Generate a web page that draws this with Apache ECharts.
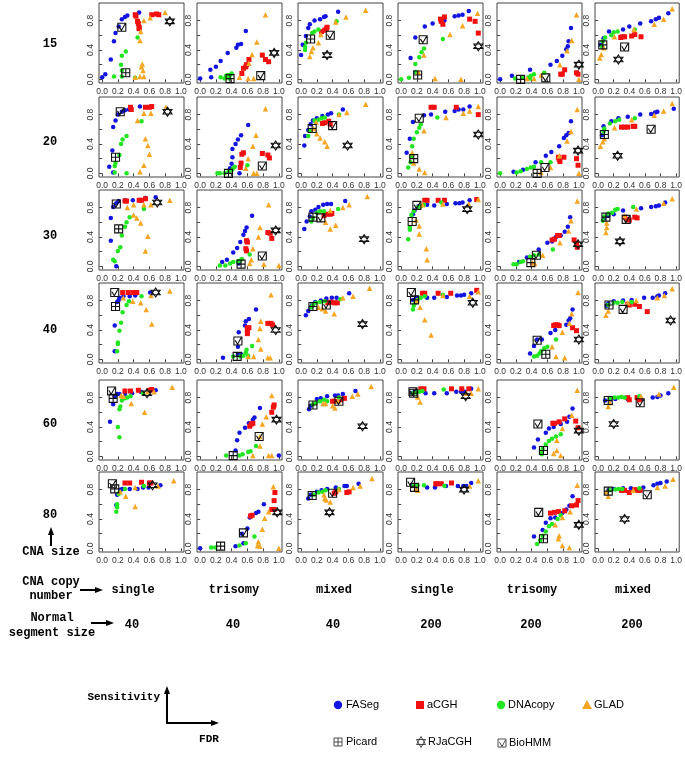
<!DOCTYPE html>
<html><head><meta charset="utf-8">
<script src="https://cdn.jsdelivr.net/npm/echarts@6/dist/echarts.min.js"></script>
<style>html,body{margin:0;padding:0;background:#fff}#c{width:685px;height:776px}</style>
</head><body><div id="c"></div>
<script>
// ---- labels ----
const CNA_SIZE = ['15','20','30','40','60','80'];
const COPY_NUMBER = ['single','trisomy','mixed','single','trisomy','mixed'];
const NORMAL_SIZE = ['40','40','40','200','200','200'];
const X_TICKS = [0,0.2,0.4,0.6,0.8,1.0];
const Y_TICKS = [0,0.2,0.4,0.6,0.8];
const Y_LABELS = [0,0.4,0.8];

// ---- data: panels in row order (CNA size 15..80), columns left to right; each point [FDR, Sensitivity] ----
const FASeg = [
 [[0,0.03],[0.04,0.07],[0.11,0.27],[0.15,0.52],[0.17,0.63],[0.21,0.72],[0.25,0.82],[0.29,0.85],[0.32,0.87],[0.47,0.91]],
 [[0,0.01],[0.14,0.03],[0.13,0.13],[0.2,0.17],[0.26,0.25],[0.35,0.36],[0.46,0.43],[0.48,0.47],[0.52,0.48],[0.58,0.66]],
 [[0,0.33],[0.02,0.47],[0.06,0.59],[0.09,0.7],[0.11,0.75],[0.17,0.8],[0.24,0.82],[0.29,0.85],[0.31,0.86],[0.47,0.92]],
 [[0.18,0.1],[0.12,0.29],[0.18,0.57],[0.3,0.72],[0.4,0.76],[0.55,0.8],[0.68,0.86],[0.73,0.87],[0.78,0.88],[0.86,0.93]],
 [[0,0],[0.15,0.05],[0.38,0.13],[0.64,0.2],[0.72,0.25],[0.79,0.32],[0.84,0.41],[0.86,0.45],[0.87,0.52],[0.9,0.7]],
 [[0.03,0.47],[0.07,0.56],[0.14,0.65],[0.32,0.68],[0.4,0.72],[0.54,0.76],[0.68,0.79],[0.74,0.82],[0.78,0.84],[0.9,0.9]],
 [[0.14,0.01],[0.09,0.09],[0.13,0.31],[0.14,0.63],[0.17,0.72],[0.2,0.8],[0.25,0.84],[0.29,0.86],[0.34,0.87],[0.48,0.91]],
 [[0.5,0],[0.38,0.07],[0.4,0.13],[0.41,0.22],[0.41,0.33],[0.45,0.4],[0.48,0.46],[0.52,0.52],[0.61,0.66]],
 [[0.04,0.38],[0.05,0.51],[0.09,0.59],[0.12,0.67],[0.15,0.72],[0.2,0.75],[0.27,0.78],[0.34,0.8],[0.38,0.82],[0.53,0.87]],
 [[0.07,0.28],[0.11,0.47],[0.15,0.7],[0.29,0.79],[0.38,0.8],[0.56,0.84],[0.68,0.85],[0.73,0.87],[0.79,0.87],[0.87,0.91]],
 [[0.17,0.02],[0.29,0.05],[0.45,0.15],[0.58,0.24],[0.65,0.29],[0.75,0.37],[0.81,0.48],[0.84,0.52],[0.87,0.55],[0.9,0.71]],
 [[0.05,0.52],[0.07,0.64],[0.17,0.71],[0.26,0.75],[0.38,0.77],[0.54,0.8],[0.68,0.81],[0.73,0.83],[0.76,0.84],[0.97,0.88]],
 [[0.18,0],[0.11,0.35],[0.11,0.66],[0.14,0.81],[0.18,0.86],[0.21,0.89],[0.29,0.9],[0.39,0.9],[0.55,0.93],[0.68,0.94]],
 [[0.28,0.06],[0.34,0.09],[0.42,0.19],[0.47,0.25],[0.51,0.33],[0.55,0.43],[0.57,0.48],[0.59,0.53],[0.66,0.69],[0.49,0.04]],
 [[0.04,0.51],[0.07,0.61],[0.11,0.68],[0.13,0.75],[0.18,0.77],[0.22,0.81],[0.28,0.84],[0.33,0.85],[0.38,0.85],[0.56,0.89]],
 [[0.15,0.71],[0.17,0.76],[0.22,0.82],[0.33,0.84],[0.42,0.83],[0.58,0.85],[0.69,0.86],[0.74,0.86],[0.78,0.87],[0.87,0.9]],
 [[0.24,0.06],[0.34,0.12],[0.49,0.23],[0.6,0.32],[0.66,0.34],[0.71,0.4],[0.77,0.42],[0.82,0.47],[0.86,0.54],[0.89,0.67]],
 [[0.08,0.66],[0.13,0.69],[0.2,0.71],[0.32,0.76],[0.55,0.79],[0.68,0.81],[0.74,0.82],[0.78,0.83],[0.86,0.87]],
 [[0.16,0.11],[0.16,0.46],[0.19,0.78],[0.21,0.81],[0.22,0.84],[0.27,0.86],[0.35,0.86],[0.42,0.87],[0.61,0.91]],
 [[0.29,0.02],[0.48,0.07],[0.52,0.07],[0.48,0.17],[0.49,0.37],[0.57,0.46],[0.58,0.52],[0.62,0.55],[0.71,0.68]],
 [[0.06,0.6],[0.09,0.66],[0.12,0.71],[0.14,0.74],[0.18,0.78],[0.25,0.8],[0.32,0.83],[0.39,0.84],[0.45,0.84],[0.61,0.9]],
 [[0.15,0.81],[0.19,0.84],[0.33,0.84],[0.42,0.84],[0.58,0.85],[0.71,0.87],[0.76,0.87],[0.8,0.88],[0.89,0.9]],
 [[0.38,0.08],[0.43,0.18],[0.47,0.27],[0.53,0.27],[0.64,0.36],[0.7,0.4],[0.84,0.47],[0.87,0.53],[0.89,0.56],[0.92,0.68]],
 [[0.11,0.73],[0.13,0.76],[0.2,0.79],[0.32,0.8],[0.43,0.81],[0.59,0.84],[0.7,0.84],[0.76,0.86],[0.78,0.87],[0.86,0.9]],
 [[0.1,0.47],[0.14,0.71],[0.16,0.82],[0.19,0.85],[0.22,0.85],[0.29,0.85],[0.38,0.86],[0.49,0.88],[0.6,0.88],[0.68,0.9]],
 [[1.0,0.01],[0.45,0.08],[0.47,0.22],[0.5,0.32],[0.57,0.39],[0.62,0.45],[0.67,0.5],[0.69,0.53],[0.76,0.66]],
 [[0.1,0.64],[0.12,0.69],[0.2,0.78],[0.25,0.79],[0.33,0.82],[0.43,0.83],[0.47,0.83],[0.53,0.85],[0.69,0.89]],
 [[0.14,0.86],[0.17,0.88],[0.31,0.86],[0.42,0.86],[0.58,0.86],[0.7,0.88],[0.76,0.88],[0.81,0.88],[0.89,0.92]],
 [[0.43,0.12],[0.48,0.23],[0.58,0.32],[0.62,0.38],[0.68,0.4],[0.77,0.44],[0.85,0.47],[0.88,0.54],[0.92,0.65]],
 [[0.09,0.76],[0.15,0.77],[0.22,0.78],[0.38,0.78],[0.55,0.78],[0.7,0.8],[0.76,0.81],[0.8,0.83],[0.9,0.86]],
 [[0.18,0.59],[0.19,0.73],[0.24,0.8],[0.26,0.81],[0.35,0.81],[0.45,0.81],[0.52,0.83],[0.59,0.83],[0.74,0.86]],
 [[0,0],[0.45,0.03],[0.55,0.07],[0.53,0.2],[0.6,0.27],[0.63,0.42],[0.66,0.45],[0.71,0.48],[0.74,0.5],[0.81,0.6]],
 [[0.09,0.68],[0.12,0.73],[0.2,0.77],[0.26,0.79],[0.33,0.81],[0.44,0.83],[0.55,0.85],[0.58,0.85],[0.73,0.88]],
 [[0.15,0.85],[0.19,0.83],[0.33,0.83],[0.43,0.83],[0.57,0.85],[0.72,0.85],[0.79,0.85],[0.83,0.85],[0.89,0.89]],
 [[0.43,0.16],[0.54,0.25],[0.58,0.35],[0.64,0.41],[0.7,0.42],[0.79,0.48],[0.84,0.53],[0.88,0.58],[0.92,0.71]],
 [[0.13,0.79],[0.2,0.81],[0.32,0.82],[0.42,0.82],[0.58,0.83],[0.71,0.86],[0.76,0.88],[0.8,0.89],[0.88,0.91]]
];
const aCGH = [
 [[0.42,0.88],[0.43,0.86],[0.45,0.79],[0.46,0.76],[0.47,0.71],[0.47,0.69],[0.63,0.88],[0.69,0.89],[0.72,0.88]],
 [[0.53,0.08],[0.55,0.15],[0.58,0.17],[0.59,0.2],[0.62,0.27],[0.79,0.33],[0.83,0.27],[0.87,0.24]],
 [[0.26,0.65],[0.3,0.67],[0.32,0.69],[0.33,0.71]],
 [[0.5,0.82],[0.51,0.79],[0.53,0.75],[0.55,0.85],[0.87,0.82],[0.94,0.79],[0.98,0.63]],
 [[0.77,0.07],[0.79,0.07],[0.82,0.13],[0.97,0.09],[0.99,0.07]],
 [[0.29,0.57],[0.31,0.58],[0.34,0.58],[0.43,0.59],[0.47,0.61],[0.55,0.58]],
 [[0.36,0.9],[0.37,0.87],[0.55,0.9],[0.6,0.9],[0.63,0.91]],
 [[0.51,0.08],[0.52,0.14],[0.53,0.26],[0.55,0.28],[0.79,0.27],[0.86,0.25],[0.88,0.21]],
 [[0.27,0.68],[0.3,0.69],[0.35,0.71],[0.37,0.67]],
 [[0.38,0.9],[0.42,0.9],[0.7,0.9],[0.98,0.8]],
 [[0.74,0.22],[0.75,0.19],[0.76,0.16],[0.81,0.22],[0.97,0.2],[0.99,0.11]],
 [[0.3,0.63],[0.34,0.63],[0.38,0.63],[0.45,0.64],[0.47,0.64]],
 [[0.29,0.89],[0.31,0.89],[0.47,0.9],[0.5,0.9],[0.55,0.92]],
 [[0.58,0.24],[0.59,0.21],[0.59,0.35],[0.6,0.33],[0.86,0.46],[0.89,0.45],[0.91,0.38]],
 [[0.29,0.69],[0.33,0.71],[0.37,0.71],[0.39,0.72]],
 [[0.3,0.9],[0.33,0.9],[0.47,0.9],[0.55,0.9],[0.96,0.91]],
 [[0.66,0.36],[0.69,0.37],[0.73,0.42],[0.75,0.42],[0.94,0.36],[0.97,0.31],[0.98,0.26]],
 [[0.34,0.67],[0.38,0.64],[0.4,0.63],[0.47,0.67],[0.5,0.66]],
 [[0.26,0.91],[0.33,0.91],[0.39,0.91],[0.44,0.91]],
 [[0.6,0.35],[0.6,0.39],[0.6,0.43],[0.62,0.43],[0.86,0.49],[0.9,0.49],[0.92,0.47]],
 [[0.34,0.77],[0.38,0.78],[0.42,0.77],[0.46,0.77]],
 [[0.27,0.9],[0.3,0.9],[0.47,0.9],[0.63,0.9],[0.96,0.94]],
 [[0.68,0.46],[0.7,0.47],[0.73,0.47],[0.75,0.46],[0.92,0.43],[0.97,0.39]],
 [[0.38,0.75],[0.4,0.74],[0.47,0.75],[0.53,0.72],[0.63,0.65]],
 [[0.29,0.89],[0.36,0.89],[0.46,0.9],[0.6,0.9],[0.63,0.91]],
 [[0.63,0.41],[0.65,0.44],[0.67,0.45],[0.91,0.6],[0.93,0.67],[0.94,0.7]],
 [[0.4,0.75],[0.43,0.75],[0.5,0.77],[0.55,0.79]],
 [[0.25,0.92],[0.29,0.92],[0.64,0.92],[0.77,0.92],[0.86,0.92]],
 [[0.67,0.45],[0.69,0.45],[0.75,0.47],[0.82,0.51],[0.96,0.48],[0.99,0.39]],
 [[0.38,0.8],[0.4,0.77],[0.5,0.8],[0.53,0.77]],
 [[0.29,0.89],[0.35,0.89],[0.5,0.9],[0.6,0.89],[0.62,0.89]],
 [[0.64,0.44],[0.66,0.45],[0.91,0.53],[0.94,0.53],[0.94,0.65],[0.95,0.76]],
 [[0.42,0.75],[0.44,0.77],[0.58,0.76],[0.61,0.77]],
 [[0.44,0.88],[0.46,0.88],[0.51,0.88],[0.64,0.89]],
 [[0.64,0.48],[0.69,0.49],[0.74,0.5],[0.82,0.51],[0.91,0.58],[0.97,0.59],[0.99,0.65]],
 [[0.3,0.79],[0.34,0.79],[0.4,0.76],[0.47,0.8],[0.51,0.79],[0.54,0.79]]
];
const DNAcopy = [
 [[0.45,0.57],[0.3,0.38],[0.25,0.32],[0.24,0.2],[0.25,0.12],[0.15,0.04],[0.25,0.04],[0.42,0.02]],
 [[0.26,0.03],[0.33,0.05],[0.35,0.06],[0.38,0.06],[0.4,0.08],[0.31,0.01],[0.37,0.01]],
 [[0.05,0.4],[0.05,0.44],[0.06,0.5],[0.14,0.63],[0.17,0.65],[0.22,0.68],[0.45,0.79]],
 [[0,0],[0.1,0.02],[0.19,0.1],[0.18,0.21],[0.23,0.3],[0.26,0.37],[0.29,0.42],[0.53,0.55]],
 [[0.19,0.01],[0.28,0.02],[0.36,0.03],[0.38,0.01],[0.39,0.05],[0.43,0.07],[0.56,0.09]],
 [[0.05,0.45],[0.06,0.52],[0.09,0.57],[0.17,0.6],[0.2,0.64],[0.25,0.65],[0.47,0.68]],
 [[0.31,0],[0.16,0.01],[0.16,0.1],[0.17,0.14],[0.22,0.25],[0.24,0.4],[0.26,0.46],[0.31,0.51],[0.5,0.71]],
 [[0.22,0],[0.25,0],[0.31,0],[0.36,0.02],[0.4,0.04],[0.42,0.07],[0.44,0.09],[0.6,0.11]],
 [[0.09,0.51],[0.11,0.58],[0.17,0.72],[0.22,0.73],[0.26,0.75],[0.3,0.76],[0.48,0.8]],
 [[0.09,0.08],[0.12,0.15],[0.13,0.23],[0.14,0.37],[0.16,0.47],[0.2,0.56],[0.23,0.62],[0.25,0.67],[0.46,0.76]],
 [[0,0],[0.21,0.01],[0.26,0.03],[0.34,0.06],[0.39,0.08],[0.43,0.09],[0.52,0.15],[0.64,0.15]],
 [[0.07,0.57],[0.08,0.61],[0.15,0.68],[0.22,0.71],[0.27,0.73],[0.47,0.75]],
 [[0.14,0.09],[0.16,0.07],[0.2,0.21],[0.23,0.26],[0.25,0.42],[0.29,0.54],[0.31,0.6],[0.35,0.67],[0.53,0.78]],
 [[0.25,0.01],[0.32,0.01],[0.38,0.04],[0.42,0.06],[0.48,0.07],[0.51,0.08],[0.53,0.1],[0.63,0.16]],
 [[0.13,0.61],[0.15,0.66],[0.2,0.73],[0.24,0.75],[0.29,0.75],[0.47,0.78]],
 [[0.09,0.37],[0.11,0.5],[0.11,0.53],[0.13,0.7],[0.16,0.75],[0.21,0.8],[0.25,0.82],[0.29,0.84],[0.51,0.87]],
 [[0.17,0.03],[0.21,0.03],[0.26,0.06],[0.29,0.07],[0.38,0.13],[0.43,0.15],[0.49,0.16],[0.67,0.23]],
 [[0.06,0.62],[0.08,0.68],[0.13,0.72],[0.18,0.73],[0.22,0.77],[0.25,0.78],[0.45,0.81]],
 [[0.19,0.11],[0.2,0.21],[0.2,0.23],[0.22,0.39],[0.24,0.5],[0.26,0.64],[0.31,0.74],[0.34,0.79],[0.5,0.86]],
 [[0.42,0.04],[0.51,0.04],[0.55,0.05],[0.61,0.05],[0.58,0.09],[0.59,0.13],[0.66,0.18]],
 [[0.13,0.71],[0.15,0.74],[0.19,0.77],[0.24,0.78],[0.3,0.79],[0.5,0.82]],
 [[0.15,0.68],[0.16,0.73],[0.18,0.77],[0.21,0.81],[0.25,0.84],[0.3,0.86],[0.53,0.88]],
 [[0.43,0.04],[0.47,0.05],[0.5,0.08],[0.52,0.11],[0.56,0.15],[0.6,0.17],[0.71,0.27]],
 [[0.13,0.74],[0.2,0.77],[0.25,0.77],[0.31,0.78],[0.43,0.78]],
 [[0.22,0.26],[0.2,0.4],[0.22,0.64],[0.23,0.68],[0.25,0.76],[0.29,0.79],[0.32,0.8],[0.36,0.82],[0.52,0.86]],
 [[0.33,0.01],[0.5,0.01],[0.54,0.03],[0.61,0.06],[0.64,0.07],[0.71,0.14]],
 [[0.15,0.71],[0.19,0.73],[0.24,0.75],[0.29,0.77],[0.33,0.75],[0.48,0.8]],
 [[0.15,0.86],[0.19,0.87],[0.23,0.88],[0.27,0.89],[0.54,0.91]],
 [[0.53,0.03],[0.52,0.06],[0.54,0.1],[0.58,0.16],[0.62,0.21],[0.66,0.24],[0.71,0.27],[0.77,0.3]],
 [[0.15,0.78],[0.21,0.8],[0.26,0.8],[0.3,0.81],[0.34,0.8],[0.53,0.82]],
 [[0.18,0.5],[0.19,0.56],[0.19,0.6],[0.21,0.74],[0.22,0.76],[0.29,0.81],[0.53,0.85]],
 [[0.14,0.01],[0.19,0.01],[0.5,0.04],[0.58,0.07],[0.69,0.16]],
 [[0.16,0.73],[0.22,0.76],[0.27,0.77],[0.31,0.79],[0.48,0.81]],
 [[0.16,0.86],[0.21,0.86],[0.29,0.86],[0.55,0.85]],
 [[0.47,0.06],[0.51,0.11],[0.54,0.17],[0.58,0.23],[0.62,0.3],[0.66,0.33],[0.73,0.4],[0.77,0.45]],
 [[0.15,0.79],[0.22,0.8],[0.26,0.81],[0.31,0.81],[0.53,0.82]]
];
const GLAD = [
 [[0.53,0.8],[0.61,0.84],[0.8,0.91],[0.49,0.65],[0.48,0.53],[0.51,0.21],[0.5,0.17],[0.52,0.12],[0.48,0.04],[0.53,0.04],[0.42,0.03]],
 [[0.83,0.88],[0.72,0.51],[0.66,0.34],[0.62,0.22],[0.5,0.03],[0.61,0.01],[0.68,0.01]],
 [[0.11,0.31],[0.13,0.38],[0.15,0.43],[0.22,0.5],[0.25,0.61],[0.44,0.78],[0.57,0.85],[0.82,0.94]],
 [[0.97,0.9],[0.78,0.73],[0.62,0.61],[0.29,0.33],[0.22,0.1],[0.43,0.01],[0.76,0]],
 [[0.97,0.88],[0.91,0.53],[0.85,0.39],[0.76,0.2],[0.52,0.06],[0.34,0.01],[0.43,0.01],[1.0,0]],
 [[0.02,0.29],[0.04,0.34],[0.07,0.43],[0.21,0.58],[0.46,0.68],[0.72,0.75],[0.84,0.82],[0.95,0.96]],
 [[0.53,0.82],[0.62,0.82],[0.81,0.9],[0.45,0.72],[0.55,0.47],[0.58,0.38],[0.6,0.26],[0.53,0.11],[0.48,0.02]],
 [[0.83,0.88],[0.71,0.52],[0.67,0.37],[0.61,0.2],[0.58,0.07],[0.68,0],[0.72,0]],
 [[0.19,0.7],[0.16,0.61],[0.2,0.54],[0.24,0.48],[0.3,0.43],[0.33,0.37],[0.48,0.8],[0.58,0.83],[0.82,0.94]],
 [[0.14,0.28],[0.16,0.14],[0.29,0.58],[0.23,0.06],[0.3,0.01],[0.57,0.76],[0.79,0.82],[0.87,0.85],[0.98,0.91]],
 [[0.98,0.87],[0.9,0.57],[0.85,0.44],[0.75,0.24],[0.64,0.08],[0.52,0.01],[1.0,0]],
 [[0.03,0.37],[0.06,0.43],[0.08,0.47],[0.21,0.62],[0.43,0.73],[0.72,0.79],[0.84,0.85],[0.95,0.95]],
 [[0.4,0.7],[0.44,0.66],[0.49,0.59],[0.58,0.41],[0.55,0.21],[0.32,0.8],[0.4,0.84],[0.53,0.84],[0.62,0.84],[0.86,0.9]],
 [[0.87,0.84],[0.76,0.53],[0.74,0.4],[0.67,0.24],[0.65,0.09],[0.63,0.04],[0.81,0.03],[1.0,0.01]],
 [[0.31,0.6],[0.37,0.51],[0.44,0.56],[0.37,0.76],[0.53,0.8],[0.61,0.84],[0.84,0.95]],
 [[0.19,0.63],[0.23,0.55],[0.23,0.44],[0.32,0.24],[0.33,0.09],[0.27,0.84],[0.53,0.85],[0.86,0.85],[0.98,0.91]],
 [[0.98,0.89],[0.9,0.62],[0.87,0.48],[0.76,0.32],[0.54,0.15],[0.41,0.05],[0.44,0.04]],
 [[0.1,0.46],[0.11,0.53],[0.11,0.59],[0.34,0.69],[0.49,0.78],[0.84,0.86],[0.95,0.92]],
 [[0.27,0.84],[0.39,0.79],[0.49,0.77],[0.56,0.68],[0.63,0.48],[0.62,0.87],[0.86,0.93]],
 [[0.9,0.88],[0.77,0.52],[0.76,0.42],[0.74,0.27],[0.77,0.14],[0.68,0.04],[0.61,0.04],[0.86,0.02],[0.89,0.02]],
 [[0.22,0.71],[0.27,0.69],[0.31,0.66],[0.42,0.62],[0.53,0.84],[0.66,0.86],[0.87,0.97]],
 [[0.2,0.8],[0.24,0.71],[0.3,0.54],[0.38,0.33],[0.53,0.87],[0.87,0.86],[0.98,0.92]],
 [[0.99,0.91],[0.91,0.62],[0.88,0.49],[0.79,0.37],[0.66,0.17],[0.71,0.04],[0.82,0.02]],
 [[0.1,0.6],[0.13,0.66],[0.38,0.77],[0.49,0.8],[0.76,0.84],[0.85,0.87],[0.95,0.96]],
 [[0.24,0.83],[0.27,0.82],[0.37,0.72],[0.54,0.6],[0.58,0.88],[0.66,0.88],[0.89,0.94]],
 [[0.91,0.83],[0.84,0.54],[0.79,0.44],[0.76,0.27],[0.76,0.14],[0.67,0.01],[0.87,0.01],[0.91,0.01]],
 [[0.28,0.72],[0.31,0.72],[0.4,0.69],[0.43,0.66],[0.47,0.75],[0.65,0.82],[0.72,0.85],[0.89,0.95]],
 [[0.21,0.81],[0.24,0.74],[0.83,0.86],[0.89,0.86],[0.98,0.92]],
 [[0.98,0.9],[0.91,0.56],[0.79,0.38],[0.72,0.22],[0.72,0.08],[0.68,0.04],[0.77,0.01]],
 [[0.13,0.68],[0.15,0.73],[0.55,0.82],[0.78,0.85],[0.97,0.94]],
 [[0.23,0.77],[0.3,0.71],[0.42,0.57],[0.42,0.83],[0.71,0.85],[0.91,0.92]],
 [[0.93,0.84],[0.87,0.5],[0.82,0.41],[0.79,0.26],[0.74,0.09],[0.73,0.04],[0.76,0.03],[1.0,0]],
 [[0.29,0.73],[0.3,0.68],[0.32,0.66],[0.37,0.63],[0.48,0.8],[0.66,0.83],[0.75,0.85],[0.9,0.95]],
 [[0.18,0.81],[0.21,0.79],[0.87,0.85],[0.98,0.92]],
 [[0.98,0.86],[0.89,0.5],[0.79,0.42],[0.7,0.32],[0.75,0.17],[0.74,0.13],[0.79,0.04],[0.88,0.01]],
 [[0.11,0.77],[0.13,0.71],[0.45,0.79],[0.76,0.83],[0.86,0.85],[0.96,0.94]]
];
const Picard = [
 [0.30,0.09],[0.38,0.01],[0.12,0.55],[0.21,0.06],[0.26,0],[0.06,0.47],
 [0.17,0.22],[0.36,0.0],[0.14,0.61],[0.16,0.2],[0.47,0],[0.08,0.53],
 [0.21,0.51],[0.52,0.03],[0.15,0.67],[0.14,0.61],[0.39,0.05],[0.1,0.67],
 [0.17,0.72],[0.47,0.04],[0.15,0.72],[0.17,0.81],[0.58,0.07],[0.14,0.74],
 [0.14,0.79],[0.42,0.01],[0.15,0.7],[0.16,0.86],[0.55,0.08],[0.13,0.76],
 [0.16,0.81],[0.26,0.03],[0.14,0.72],[0.17,0.83],[0.55,0.13],[0.13,0.78]
];
const RJaCGH = [
 [0.86,0.79],[0.94,0.36],[0.33,0.33],[0.98,0.45],[1.0,0.2],[0.26,0.27],
 [0.83,0.84],[0.96,0.38],[0.59,0.38],[0.98,0.53],[0.99,0.31],[0.25,0.24],
 [0.7,0.87],[0.96,0.49],[0.8,0.37],[0.84,0.78],[0.99,0.3],[0.28,0.34],
 [0.68,0.91],[0.96,0.4],[0.78,0.48],[0.91,0.77],[1.0,0.27],[0.93,0.53],
 [0.57,0.86],[0.97,0.5],[0.78,0.41],[0.82,0.82],[1.0,0.35],[0.2,0.44],
 [0.64,0.86],[0.98,0.49],[0.36,0.49],[0.8,0.8],[1.0,0.32],[0.34,0.4]
];
const BioHMM = [
 [0.25,0.71],[0.77,0.05],[0.37,0.6],[0.28,0.54],[0.58,0.02],[0.34,0.44],
 [0.23,0.84],[0.79,0.1],[0.4,0.65],[0.23,0.75],[0.57,0.08],[0.68,0.6],
 [0.18,0.85],[0.79,0.14],[0.25,0.66],[0.2,0.83],[0.46,0.15],[0.36,0.64],
 [0.16,0.91],[0.48,0.25],[0.32,0.74],[0.13,0.91],[0.47,0.26],[0.32,0.68],
 [0.12,0.89],[0.75,0.27],[0.48,0.75],[0.15,0.88],[0.48,0.44],[0.54,0.73],
 [0.13,0.88],[0.55,0.21],[0.4,0.75],[0.12,0.9],[0.49,0.49],[0.63,0.73]
];

// ---- layout & style ----
const COL_LEFT = [99,197,298,398,497,595];
const ROW_TOP = [3,97,190,283,380,472];
const PW = 85, PH = 80;
const C_BLUE = '#1414e0', C_RED = '#f01010', C_GREEN = '#22e622', C_ORANGE = '#f5a623';
const MONO = 'Liberation Mono', SANS = 'Liberation Sans';
const P_PICARD = 'path://M0,0H10V10H0Z M5,0V10 M0,5H10';
const P_STAR = 'path://M5,0L9.33,7.5H0.67Z M5,10L0.67,2.5H9.33Z';
const P_BIO = 'path://M0,0H10V10H0Z M1.5,4L4.5,9L9,1';

const grids = [], xAxes = [], yAxes = [], series = [];
for (let r = 0; r < 6; r++) {
  for (let c = 0; c < 6; c++) {
    const i = r * 6 + c;
    grids.push({left: COL_LEFT[c], top: ROW_TOP[r], width: PW, height: PH, show: true,
      borderColor: '#444', borderWidth: 1, backgroundColor: '#fff', containLabel: false});
    xAxes.push({type: 'value', gridIndex: i, min: -0.04, max: 1.04,
      axisLine: {show: false}, splitLine: {show: false},
      axisTick: {show: true, customValues: X_TICKS, length: 3, lineStyle: {color: '#444'}},
      axisLabel: {customValues: X_TICKS, formatter: v => v.toFixed(1), fontSize: 8.5, color: '#333',
        fontFamily: SANS, margin: 4}});
    yAxes.push({type: 'value', gridIndex: i, min: -0.05, max: 1.04,
      axisLine: {show: false}, splitLine: {show: false},
      axisTick: {show: true, customValues: Y_TICKS, length: 3, lineStyle: {color: '#444'}},
      axisLabel: {customValues: Y_LABELS, formatter: v => v.toFixed(1), fontSize: 8.5, color: '#333',
        fontFamily: SANS, rotate: 90, margin: 4}});
    const base = {type: 'scatter', xAxisIndex: i, yAxisIndex: i, silent: true};
    series.push(Object.assign({}, base, {name: 'FASeg', data: FASeg[i], symbol: 'circle', symbolSize: 4.5, itemStyle: {color: C_BLUE, opacity: 1}}));
    series.push(Object.assign({}, base, {name: 'aCGH', data: aCGH[i], symbol: 'rect', symbolSize: 5, itemStyle: {color: C_RED, opacity: 1}}));
    series.push(Object.assign({}, base, {name: 'DNAcopy', data: DNAcopy[i], symbol: 'circle', symbolSize: 4.5, itemStyle: {color: C_GREEN, opacity: 1}}));
    series.push(Object.assign({}, base, {name: 'GLAD', data: GLAD[i], symbol: 'triangle', symbolSize: 5.5, itemStyle: {color: C_ORANGE, opacity: 1}}));
    const sp = {color: 'rgba(0,0,0,0)', borderColor: '#111', borderWidth: 1.1, opacity: 1};
    series.push(Object.assign({}, base, {name: 'Picard', data: [Picard[i]], symbol: P_PICARD, symbolSize: 8, itemStyle: sp}));
    series.push(Object.assign({}, base, {name: 'RJaCGH', data: [RJaCGH[i]], symbol: P_STAR, symbolSize: 9, itemStyle: sp}));
    series.push(Object.assign({}, base, {name: 'BioHMM', data: [BioHMM[i]], symbol: P_BIO, symbolSize: 8, itemStyle: sp}));
  }
}

// ---- annotations ----
const els = [];
function txt(t, x, y, opts) {
  els.push({type: 'text', x: x, y: y, style: Object.assign({text: t, fill: '#000', font: 'bold 12px "' + MONO + '"',
    align: 'center', verticalAlign: 'middle'}, opts || {})});
}
function arrow(x1, y1, x2, y2, w) {
  const dx = x2 - x1, dy = y2 - y1, L = Math.hypot(dx, dy), ux = dx / L, uy = dy / L;
  const hl = 8, hw = 3;
  const bx = x2 - ux * hl, by = y2 - uy * hl;
  els.push({type: 'line', shape: {x1: x1, y1: y1, x2: bx, y2: by}, style: {stroke: '#000', lineWidth: w || 2}});
  els.push({type: 'polygon', shape: {points: [[x2, y2], [bx - uy * hw, by + ux * hw], [bx + uy * hw, by - ux * hw]]},
    style: {fill: '#000'}});
}
const ROW_LABEL_Y = [44, 142, 236, 330, 424, 515];
CNA_SIZE.forEach((t, r) => txt(t, 50, ROW_LABEL_Y[r]));
arrow(51, 546, 51, 527, 2);
txt('CNA size', 51, 552);
txt('CNA copy', 51, 582); txt('number', 51, 596);
arrow(80, 590, 103, 590, 2);
txt('Normal', 52, 618); txt('segment size', 52, 633);
arrow(91, 623, 114, 623, 2);
const COL_CENTER = [133, 234, 334, 432, 532, 633];
COPY_NUMBER.forEach((t, c) => txt(t, COL_CENTER[c], 590));
NORMAL_SIZE.forEach((t, c) => txt(t, COL_CENTER[c] - 1, 625));
txt('Sensitivity', 160, 697, {align: 'right', font: 'bold 11px "' + MONO + '"'});
arrow(167, 724, 167, 686, 2);
arrow(166, 723, 219, 723, 2);
txt('FDR', 209, 739, {font: 'bold 11px "' + MONO + '"'});

// legend
function ltxt(t, x, y) {
  els.push({type: 'text', x: x, y: y, style: {text: t, fill: '#000', font: '11px "' + SANS + '"', align: 'left', verticalAlign: 'middle'}});
}
els.push({type: 'circle', shape: {cx: 338, cy: 705, r: 4.2}, style: {fill: C_BLUE}}); ltxt('FASeg', 346, 705);
els.push({type: 'rect', shape: {x: 416, y: 701, width: 8, height: 8}, style: {fill: C_RED}}); ltxt('aCGH', 427, 705);
els.push({type: 'circle', shape: {cx: 501, cy: 705, r: 4.2}, style: {fill: C_GREEN}}); ltxt('DNAcopy', 508, 705);
els.push({type: 'polygon', shape: {points: [[587, 700], [592, 709], [582, 709]]}, style: {fill: C_ORANGE}}); ltxt('GLAD', 594, 705);
const ls = {fill: 'none', stroke: '#222', lineWidth: 0.8};
// Picard
els.push({type: 'rect', shape: {x: 334, y: 738, width: 8, height: 8}, style: ls});
els.push({type: 'line', shape: {x1: 338, y1: 738, x2: 338, y2: 746}, style: ls});
els.push({type: 'line', shape: {x1: 334, y1: 742, x2: 342, y2: 742}, style: ls});
ltxt('Picard', 346, 742);
// RJaCGH
els.push({type: 'polygon', shape: {points: [[421, 736.5], [425.5, 744.5], [416.5, 744.5]]}, style: ls});
els.push({type: 'polygon', shape: {points: [[421, 747.5], [416.5, 739.5], [425.5, 739.5]]}, style: ls});
ltxt('RJaCGH', 428, 742);
// BioHMM
els.push({type: 'rect', shape: {x: 498, y: 739, width: 8, height: 8}, style: ls});
els.push({type: 'polyline', shape: {points: [[499.5, 742], [502, 746.5], [505.5, 740]]}, style: ls});
ltxt('BioHMM', 509, 743);

const chart = echarts.init(document.getElementById('c'), null, {renderer: 'canvas'});
chart.setOption({animation: false, backgroundColor: '#fff', grid: grids, xAxis: xAxes, yAxis: yAxes,
  series: series, graphic: {elements: els}});
</script></body></html>
